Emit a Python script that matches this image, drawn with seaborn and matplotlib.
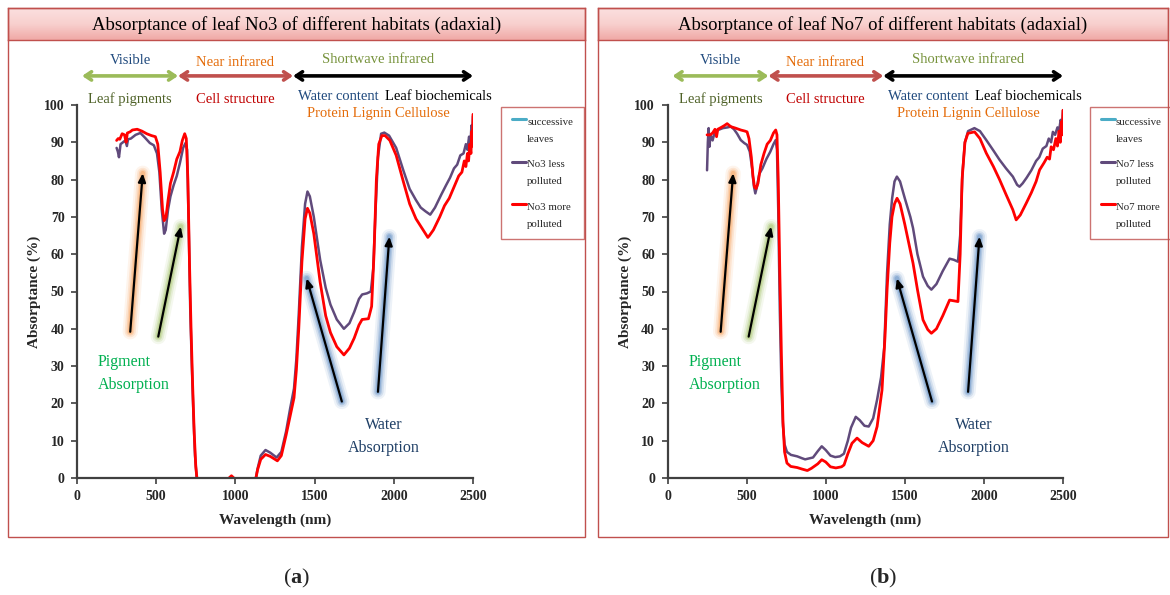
import matplotlib
matplotlib.use("Agg")
import matplotlib.pyplot as plt
import numpy as np
import pandas as pd
import seaborn as sns
from matplotlib.lines import Line2D
from matplotlib.patches import Rectangle
from matplotlib.legend_handler import HandlerLine2D

# ---------------- data ----------------
TITLES = ["Absorptance of leaf No3 of different habitats (adaxial)",
          "Absorptance of leaf No7 of different habitats (adaxial)"]
PANEL_TAGS = ["a", "b"]
LEGEND_LABELS_A = ["successive\nleaves", "No3 less\npolluted", "No3 more\npolluted"]
LEGEND_LABELS_B = ["successive\nleaves", "No7 less\npolluted", "No7 more\npolluted"]
X_TICKS = [0, 500, 1000, 1500, 2000, 2500]
Y_TICKS = [0, 10, 20, 30, 40, 50, 60, 70, 80, 90, 100]

WL_A_LESS = [250, 258, 265, 275, 290, 305, 315, 322, 340, 370, 400, 430, 460, 485, 505, 520, 535,
             550, 560, 575, 590, 610, 630, 650, 670, 685, 695, 705, 715, 725, 735, 745, 756, 770,
             850, 945, 962, 975, 988, 1010, 1080, 1125, 1140, 1160, 1190, 1220, 1260, 1290, 1320,
             1345, 1370, 1385, 1400, 1420, 1440, 1455, 1470, 1495, 1535, 1570, 1600, 1640, 1685,
             1720, 1750, 1780, 1800, 1830, 1855, 1870, 1885, 1900, 1920, 1940, 1970, 2015, 2060,
             2100, 2140, 2170, 2200, 2230, 2260, 2300, 2330, 2355, 2380, 2400, 2420, 2440, 2455,
             2465, 2475, 2485, 2490, 2495, 2500]
ABS_A_LESS = [88.5, 87.5, 86.0, 89.5, 90.0, 90.5, 89.0, 90.8, 91.0, 92.0, 92.5, 91.2, 89.8, 89.2,
              87.0, 82.0, 72.0, 65.5, 66.5, 72.0, 75.5, 78.5, 81.0, 84.5, 88.5, 89.8, 88.0, 68.0,
              45.0, 30.0, 17.0, 6.0, 0.0, -4.0, -6.0, -2.0, 0.0, 0.3, 0.0, -3.0, -5.0, -1.0, 2.5,
              6.0, 7.5, 6.8, 5.5, 7.0, 12.5, 18.5, 24.0, 32.0, 44.0, 62.0, 73.5, 76.8, 75.5, 70.0,
              58.5, 51.0, 46.5, 42.5, 40.0, 41.5, 44.5, 48.0, 49.2, 49.5, 50.0, 56.0, 72.0, 86.0,
              92.3, 92.6, 91.8, 88.5, 82.5, 77.5, 74.5, 72.5, 71.5, 70.6, 72.5, 76.0, 78.5, 80.5,
              83.0, 84.0, 86.5, 87.0, 89.5, 88.0, 91.5, 90.0, 94.5, 92.0, 97.0]

WL_A_MORE = [250, 260, 270, 285, 300, 310, 318, 335, 350, 380, 410, 440, 470, 495, 510, 525, 540,
             550, 562, 575, 590, 610, 630, 650, 665, 680, 690, 700, 710, 720, 730, 740, 750, 757,
             770, 850, 945, 960, 975, 990, 1010, 1080, 1125, 1140, 1160, 1190, 1220, 1265, 1290,
             1320, 1345, 1370, 1385, 1400, 1420, 1440, 1455, 1470, 1495, 1535, 1570, 1600, 1640,
             1685, 1720, 1750, 1780, 1800, 1840, 1860, 1875, 1890, 1905, 1925, 1945, 1975, 2015,
             2060, 2100, 2140, 2170, 2200, 2215, 2225, 2250, 2290, 2320, 2350, 2380, 2410, 2430,
             2445, 2455, 2465, 2472, 2480, 2487, 2493, 2497, 2500]
ABS_A_MORE = [90.5, 91.0, 90.8, 92.3, 92.0, 90.0, 92.5, 92.8, 93.3, 93.5, 93.0, 92.3, 91.8, 91.5,
              89.5, 82.0, 72.0, 69.0, 70.0, 74.5, 79.0, 82.0, 85.5, 87.5, 90.5, 92.3, 91.0, 80.0,
              58.0, 40.0, 25.0, 12.0, 3.0, 0.0, -4.0, -6.0, -2.0, 0.0, 0.6, 0.0, -3.0, -5.0, -1.0,
              2.2, 5.0, 6.3, 5.8, 4.6, 6.0, 11.5, 16.5, 21.5, 29.0, 40.0, 58.0, 69.5, 72.3, 71.0,
              65.5, 52.5, 43.5, 39.0, 35.2, 33.0, 34.8, 37.5, 41.0, 42.5, 42.7, 46.0, 60.0, 80.0,
              89.5, 91.8, 91.8, 90.5, 86.5, 79.5, 73.5, 69.5, 67.5, 65.5, 64.5, 65.0, 66.5, 70.0,
              73.0, 75.0, 78.0, 81.0, 82.0, 85.0, 83.5, 87.0, 85.0, 89.5, 87.0, 93.0, 89.0, 97.5]

WL_B_LESS = [250, 255, 260, 265, 272, 285, 300, 320, 350, 380, 400, 420, 440, 463, 485, 503, 520,
             535, 545, 555, 565, 580, 600, 625, 650, 670, 684, 692, 700, 710, 720, 730, 740, 755,
             780, 820, 850, 870, 890, 920, 950, 975, 1000, 1030, 1060, 1090, 1115, 1140, 1160,
             1190, 1215, 1245, 1272, 1300, 1325, 1350, 1370, 1388, 1405, 1420, 1435, 1450, 1470,
             1500, 1535, 1552, 1580, 1615, 1645, 1668, 1700, 1740, 1783, 1810, 1836, 1850, 1865,
             1880, 1900, 1940, 1975, 2015, 2060, 2099, 2140, 2183, 2210, 2225, 2245, 2270, 2300,
             2330, 2350, 2372, 2395, 2410, 2425, 2436, 2450, 2465, 2475, 2485, 2495, 2500]
ABS_B_LESS = [82.5, 90.0, 93.8, 88.8, 92.0, 90.5, 93.0, 93.3, 93.8, 94.0, 94.2, 93.5, 92.3, 90.6,
              89.8, 89.3, 87.5, 83.0, 78.5, 76.3, 78.0, 81.5, 83.0, 85.5, 87.5, 89.5, 90.6, 88.0,
              72.0, 45.0, 25.0, 14.0, 9.0, 7.0, 6.2, 5.8, 5.3, 5.0, 5.2, 5.5, 7.2, 8.5, 7.5, 6.0,
              5.6, 5.8, 6.5, 10.0, 13.5, 16.4, 15.5, 14.0, 13.8, 16.0, 21.0, 27.0, 35.0, 55.0, 68.0,
              75.0, 79.5, 80.8, 79.5, 75.0, 70.0, 67.0, 60.0, 54.0, 51.5, 50.5, 52.0, 55.5, 58.8,
              58.5, 58.0, 65.0, 82.0, 90.0, 93.0, 93.8, 93.0, 90.6, 87.8, 85.3, 83.0, 80.8, 78.6,
              78.1, 79.0, 80.5, 82.5, 85.0, 86.0, 88.3, 89.0, 91.0, 90.0, 92.8, 92.0, 94.0, 93.0,
              96.0, 95.0, 98.6]

WL_B_MORE = [250, 270, 285, 300, 310, 318, 340, 360, 377, 400, 430, 463, 490, 503, 515, 530, 540,
             550, 560, 572, 590, 610, 630, 650, 670, 684, 692, 700, 710, 720, 730, 740, 755, 779,
             820, 850, 884, 910, 950, 975, 1000, 1030, 1064, 1100, 1116, 1140, 1166, 1198, 1230,
             1272, 1300, 1325, 1356, 1375, 1388, 1405, 1419, 1435, 1451, 1470, 1500, 1552, 1580,
             1615, 1645, 1668, 1700, 1740, 1783, 1810, 1836, 1850, 1862, 1880, 1899, 1941, 1975,
             2015, 2060, 2099, 2140, 2183, 2204, 2230, 2268, 2300, 2330, 2352, 2380, 2400, 2415,
             2425, 2440, 2455, 2465, 2475, 2483, 2490, 2496, 2500]
ABS_B_MORE = [92.0, 92.0, 92.5, 93.5, 91.5, 93.5, 94.0, 94.5, 95.0, 94.2, 93.8, 93.3, 93.0, 92.8,
              91.0, 86.0, 81.0, 78.0, 77.6, 79.0, 84.0, 87.0, 89.5, 90.5, 92.5, 93.3, 92.0, 80.0,
              55.0, 33.0, 15.0, 7.0, 4.0, 3.1, 2.8, 2.4, 2.0, 2.6, 3.8, 4.9, 4.3, 3.0, 2.7, 3.0,
              3.5, 6.5, 9.3, 10.7, 9.5, 8.5, 10.0, 13.8, 23.6, 38.0, 50.5, 63.0, 70.0, 73.5, 75.0,
              73.5, 68.0, 57.6, 50.5, 42.4, 39.8, 38.8, 40.0, 43.5, 47.7, 47.5, 47.3, 60.0, 80.0,
              90.0, 92.4, 92.8, 91.0, 87.1, 83.5, 80.0, 76.0, 71.9, 69.2, 70.5, 73.7, 76.5, 79.5,
              82.6, 84.5, 86.0, 85.5, 88.8, 88.0, 91.0, 89.0, 93.0, 90.0, 95.5, 92.0, 98.6]

# ---------------- style ----------------
sns.set_style("ticks")
plt.rcParams["font.family"] = ["Liberation Serif", "DejaVu Serif"]
plt.rcParams["mathtext.fontset"] = "custom"
plt.rcParams["mathtext.rm"] = "Liberation Serif"
plt.rcParams["mathtext.bf"] = "Liberation Serif:bold"

C_SUCC = "#4bacc6"
C_LESS = "#604a7b"
C_MORE = "#ff0000"
BORDER = "#c0504d"

W, H = 1170, 595
fig = plt.figure(figsize=(W / 100, H / 100), dpi=100)


def fx(px):
    return px / W


def fy(py):
    return 1 - py / H


class RaisedLineHandler(HandlerLine2D):
    """Legend line drawn next to the first line of a two-line label."""

    def __init__(self, shift, **kw):
        super().__init__(**kw)
        self.shift = shift

    def create_artists(self, legend, orig_handle, xdescent, ydescent, width, height,
                       fontsize, trans):
        arts = super().create_artists(legend, orig_handle, xdescent, ydescent, width, height,
                                      fontsize, trans)
        for a in arts:
            a.set_ydata(np.asarray(a.get_ydata(), dtype=float) + self.shift)
        return arts


def glow_arrow(ax, start, end, glow):
    for lw, a in [(11, 0.10), (8, 0.16), (5.5, 0.25), (3.5, 0.35)]:
        ax.annotate("", xy=end, xytext=start, xycoords="data", annotation_clip=False,
                    arrowprops=dict(arrowstyle="-", color=glow, lw=lw, alpha=a,
                                    shrinkA=0, shrinkB=0, capstyle="round"))
    ax.annotate("", xy=end, xytext=start, xycoords="data", annotation_clip=False,
                arrowprops=dict(arrowstyle="-|>,head_length=0.5,head_width=0.22", color="black",
                                lw=1.6, shrinkA=0, shrinkB=0))


def draw_panel(box_x0, box_x1, ax_x0, ax_x1, title, tag, wl_less, ab_less, wl_more, ab_more,
               leg_labels, leg_xy):
    # outer frame
    fig.patches.append(Rectangle((fx(box_x0), fy(537)), fx(box_x1 - box_x0), (537 - 8) / H,
                                 transform=fig.transFigure, fill=False, edgecolor=BORDER,
                                 lw=1.0, zorder=0))
    # title band with gradient
    tax = fig.add_axes([fx(box_x0), fy(40), fx(box_x1 - box_x0), 32 / H])
    grad = np.linspace(0, 1, 64).reshape(-1, 1)
    cmap = matplotlib.colors.LinearSegmentedColormap.from_list(
        "band", ["#fbe0df", "#f8d0ce", "#f0a9a6"])
    tax.imshow(grad, aspect="auto", cmap=cmap, extent=[0, 1, 0, 1], origin="upper")
    tax.set_xlim(0, 1)
    tax.set_ylim(0, 1)
    tax.set_xticks([])
    tax.set_yticks([])
    for s in tax.spines.values():
        s.set_color(BORDER)
        s.set_linewidth(1.0)
    tax.text(0.5, 0.47, title, ha="center", va="center", fontsize=13.5, color="black")

    ax = fig.add_axes([fx(ax_x0), fy(478), fx(ax_x1 - ax_x0), (478 - 105) / H])
    df_less = pd.DataFrame({"wavelength": wl_less, "absorptance": ab_less})
    df_more = pd.DataFrame({"wavelength": wl_more, "absorptance": ab_more})
    sns.lineplot(data=df_less, x="wavelength", y="absorptance", color=C_LESS, lw=1.8,
                 estimator=None, sort=False, ax=ax)
    sns.lineplot(data=df_more, x="wavelength", y="absorptance", color=C_MORE, lw=2.0,
                 estimator=None, sort=False, ax=ax)
    ax.set_xlim(0, 2500)
    ax.set_ylim(0, 100)
    ax.set_xticks(X_TICKS)
    ax.set_yticks(Y_TICKS)
    ax.set_xticklabels([str(t) for t in X_TICKS], fontweight="bold", fontsize=10)
    ax.set_yticklabels([str(t) for t in Y_TICKS], fontweight="bold", fontsize=10)
    ax.tick_params(axis="both", direction="out", length=4, width=1.2, color="#404040", pad=5)
    sns.despine(ax=ax)
    for s in ("left", "bottom"):
        ax.spines[s].set_color("#404040")
        ax.spines[s].set_linewidth(1.6)
    ax.set_facecolor("none")
    ax.set_xlabel("Wavelength (nm)", fontweight="bold", fontsize=11, labelpad=7)
    ax.set_ylabel("Absorptance (%)", fontweight="bold", fontsize=11, labelpad=2)

    # spectral region arrows
    for x0, x1, c in [(32, 638, "#9bbb59"), (638, 1364, "#c0504d"), (1364, 2500, "black")]:
        ax.annotate("", xy=(x1, 107.8), xytext=(x0, 107.8), annotation_clip=False,
                    arrowprops=dict(arrowstyle="<->,head_length=0.45,head_width=0.3", color=c,
                                    lw=2.6, shrinkA=0, shrinkB=0))
    kw = dict(ha="center", va="center", fontsize=10.5, clip_on=False)
    ax.text(335, 112.0, "Visible", color="#1f497d", **kw)
    ax.text(995, 111.5, "Near infrared", color="#e46c0a", **kw)
    ax.text(1900, 112.2, "Shortwave infrared", color="#77933c", **kw)
    ax.text(335, 101.6, "Leaf pigments", color="#4f6228", **kw)
    ax.text(997, 101.4, "Cell structure", color="#c00000", **kw)
    ax.text(1905, 102.2, "Water content", color="#1f497d", ha="right", va="center",
            fontsize=10.5, clip_on=False)
    ax.text(1945, 102.2, "Leaf biochemicals", color="black", ha="left", va="center",
            fontsize=10.5, clip_on=False)
    ax.text(1900, 97.6, "Protein Lignin Cellulose", color="#e46c0a", **kw)

    # absorption arrows with glow
    glow_arrow(ax, (336, 39.2), (415, 81.7), "#f79646")
    glow_arrow(ax, (513, 37.9), (655, 67.4), "#9bbb59")
    glow_arrow(ax, (1672, 20.5), (1450, 53.5), "#4f81bd")
    glow_arrow(ax, (1900, 23.1), (1972, 64.7), "#4f81bd")
    ax.text(133, 28.0, "Pigment\nAbsorption", color="#00b050", ha="left", va="center",
            fontsize=11.5, linespacing=1.55)
    ax.text(1938, 11.2, "Water\nAbsorption", color="#1f3f66", ha="center", va="center",
            fontsize=11.5, linespacing=1.55)

    # legend
    handles = [Line2D([], [], color=C_SUCC, lw=2.2), Line2D([], [], color=C_LESS, lw=2.2),
               Line2D([], [], color=C_MORE, lw=2.2)]
    hmap = {h: RaisedLineHandler(8.0) for h in handles}
    leg = ax.legend(handles, leg_labels, loc="upper left", handler_map=hmap,
                    bbox_to_anchor=(fx(leg_xy[0]), fy(leg_xy[1])), bbox_transform=fig.transFigure,
                    frameon=True, fancybox=False, fontsize=7.8, handlelength=1.3,
                    handletextpad=0.1, labelspacing=1.55, borderpad=1.0, borderaxespad=0)
    for t in leg.get_texts():
        t.set_linespacing(2.1)
    leg.get_frame().set_edgecolor(BORDER)
    leg.get_frame().set_linewidth(1.0)

    fig.text(fx((box_x0 + box_x1) / 2), fy(578), r"($\mathbf{" + tag + r"}$)", ha="center",
             va="center", fontsize=16)
    return ax


draw_panel(8, 585, 77, 473, TITLES[0], PANEL_TAGS[0], WL_A_LESS, ABS_A_LESS, WL_A_MORE,
           ABS_A_MORE, LEGEND_LABELS_A, (501, 107))
draw_panel(598, 1168, 667.5, 1063, TITLES[1], PANEL_TAGS[1], WL_B_LESS, ABS_B_LESS, WL_B_MORE,
           ABS_B_MORE, LEGEND_LABELS_B, (1090, 107))

fig.savefig("out.png", dpi=100)
